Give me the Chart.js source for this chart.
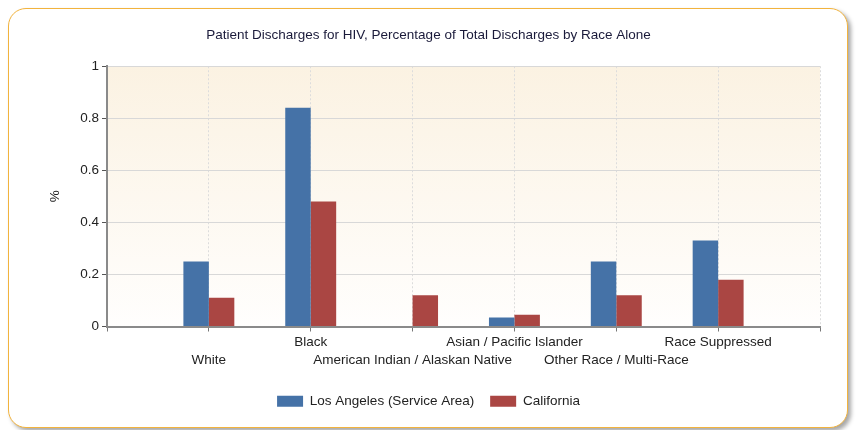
<!DOCTYPE html>
<html>
<head>
<meta charset="utf-8">
<script src="https://cdn.jsdelivr.net/npm/chart.js@4"></script>
<style>
  html, body { margin: 0; padding: 0; background: #fff; }
  #wrap { position: relative; width: 857px; height: 430px; overflow: hidden; }
  #card {
    position: absolute; left: 8px; top: 8px; width: 838px; height: 418px;
    border: 1px solid #f2b33d; border-radius: 18px; background: #fff;
    box-shadow: 3px 3px 4px rgba(0,0,0,0.35);
  }
  #chart { position: absolute; left: 0; top: 0; }
</style>
</head>
<body>
<div id="wrap">
  <div id="card"></div>
  <canvas id="chart" width="857" height="430"></canvas>
</div>
<script>
const categories = ['White', 'Black', 'American Indian / Alaskan Native', 'Asian / Pacific Islander', 'Other Race / Multi-Race', 'Race Suppressed'];
const losAngeles = [0.25, 0.84, 0, 0.035, 0.25, 0.33];
const california = [0.11, 0.48, 0.12, 0.045, 0.12, 0.18];
const yTicks = [0, 0.2, 0.4, 0.6, 0.8, 1];

// empty slots at both ends so the categories sit between the axis edges
const labels = [''].concat(categories, ['']);
const pad = arr => [null].concat(arr, [null]);

Chart.defaults.font.family = "'Liberation Sans', Arial, sans-serif";
Chart.defaults.font.size = 13.5;
Chart.defaults.color = '#222';

const plotBg = {
  id: 'plotBg',
  beforeDraw(chart) {
    const a = chart.chartArea, ctx = chart.ctx;
    const g = ctx.createLinearGradient(0, a.top, 0, a.bottom);
    g.addColorStop(0, '#fbf2e2');
    g.addColorStop(1, '#fffefd');
    ctx.save();
    ctx.fillStyle = g;
    ctx.fillRect(a.left, a.top, a.right - a.left, a.bottom - a.top);
    ctx.restore();
  }
};

new Chart(document.getElementById('chart'), {
  type: 'bar',
  data: {
    labels: labels,
    datasets: [
      { label: 'Los Angeles (Service Area)', data: pad(losAngeles), backgroundColor: '#4572a7' },
      { label: 'California', data: pad(california), backgroundColor: '#aa4643' }
    ]
  },
  options: {
    responsive: false,
    animation: false,
    categoryPercentage: 0.5,
    barPercentage: 1.0,
    layout: { padding: { left: 37, right: 37, top: 0, bottom: 12 } },
    plugins: {
      title: {
        display: true,
        text: 'Patient Discharges for HIV, Percentage of Total Discharges by Race Alone',
        color: '#1a1a3a',
        font: { size: 13.5, weight: 'normal' },
        padding: { top: 27, bottom: 23 }
      },
      legend: {
        position: 'bottom',
        labels: { boxWidth: 26, boxHeight: 11, padding: 16, color: '#222' }
      },
      tooltip: { enabled: false }
    },
    scales: {
      x: {
        offset: false,
        grid: { offset: false, color: ctx => ctx.index === 0 ? 'rgba(0,0,0,0)' : '#dcdcdc', tickColor: '#777', tickLength: 5 },
        border: { color: '#8a8a8a', width: 2, dash: [2, 2] },
        ticks: {
          autoSkip: false, maxRotation: 0, minRotation: 0, padding: 2,
          font: { lineHeight: 1.33 },
          callback: function (v, i) {
            const l = labels[i];
            if (!l) return '';
            return (i % 2 === 1) ? ['', l] : [l];
          }
        },
        afterFit: s => { s.height = 52; }
      },
      y: {
        min: 0, max: 1,
        afterBuildTicks: s => { s.ticks = yTicks.map(v => ({ value: v })); },
        grid: { color: '#d8d8d8', tickColor: '#555', tickLength: 5 },
        border: { color: '#8a8a8a', width: 2 },
        ticks: { padding: 3, color: '#222', callback: v => String(v) },
        title: { display: true, text: '%', color: '#222', padding: { top: 10 } },
        afterFit: s => { s.width = 70; }
      }
    }
  },
  plugins: [plotBg]
});
</script>
</body>
</html>
